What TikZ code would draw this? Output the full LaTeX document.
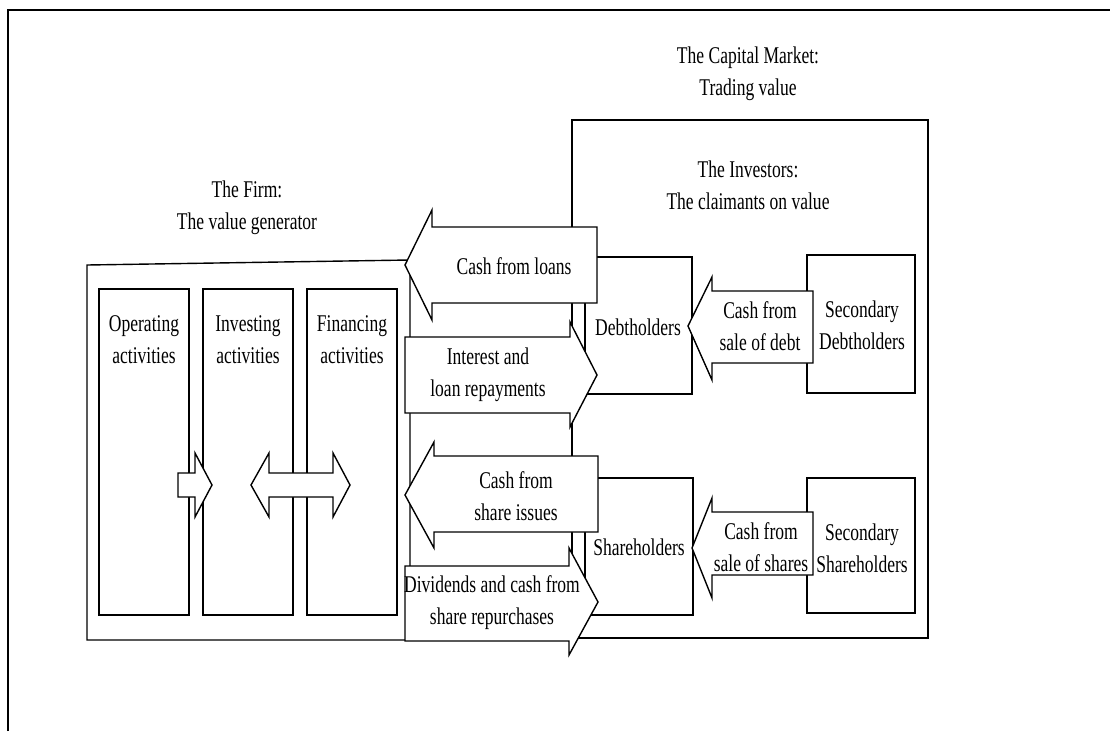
\documentclass[tikz,border=0pt]{standalone}
\usepackage{fontspec}
\setmainfont{Liberation Serif}[FakeStretch=0.73]
\usetikzlibrary{calc}

\newcommand{\lbfont}{\fontsize{24}{32}\selectfont}
\tikzset{
  box/.style={line width=1.4pt},
  blk/.style={line width=1.4pt, fill=white, line join=miter},
  lbl/.style={align=center, inner sep=0pt, font=\lbfont}
}

\begin{document}
\begin{tikzpicture}[x=1pt,y=-1pt]
\useasboundingbox (0,0) rectangle (1110,731);
%page frame
\draw[line width=2pt] (8,731) -- (8,10) -- (1110,10);

%titles
\node[lbl] (market) at (748,74) {The Capital Market:\\Trading value};
\node[lbl] (investors) at (748,185) {The Investors:\\The claimants on value};
\node[lbl] (firm) at (247,208) {The Firm:\\The value generator};

%firm box
\draw[box] (87,265) -- (410,260) -- (410,640) -- (87,640) -- cycle;
\foreach \x/\n/\t in {99/op/Operating, 203/inv/Investing, 307/fin/Financing} {
\draw[box] (\x,289) rectangle ++(90,326);
\node[lbl] (\n) at (\x+45,340) {\t\\activities};
}

%flows inside the firm
\draw[blk] (178,473) -- (195,473) -- (195,453) -- (212,485) -- (195,517) -- (195,497) -- (178,497) -- cycle;
\draw[blk] (251,485) -- (269,453) -- (269,473) -- (333,473) -- (333,453) -- (350,485)
  -- (333,517) -- (333,497) -- (269,497) -- (269,517) -- cycle;

%market box
\draw[box] (572,120) rectangle (928,638);

%investor boxes
\draw[box] (585,257) rectangle (692,394);
\node[lbl] (debt) at (638,327) {Debtholders};
\draw[box] (585,478) rectangle (693,615);
\node[lbl] (share) at (639,547) {Shareholders};
\draw[box] (807,255) rectangle (915,393);
\node[lbl] (secdebt) at (862,325) {Secondary\\Debtholders};
\draw[box] (807,478) rectangle (915,613);
\node[lbl] (secshare) at (862,548) {Secondary\\Shareholders};

%debt flows
\draw[blk] (597,227) -- (432,227) -- (432,210) -- (405,265) -- (432,320) -- (432,303) -- (597,303) -- cycle;
\node[lbl] (loans) at (514,266) {Cash from loans};
\draw[blk] (405,337) -- (570,337) -- (570,322) -- (597,375) -- (570,427) -- (570,413) -- (405,413) -- cycle;
\node[lbl] (interest) at (488,375) {Interest and\\loan repayments};

%equity flows
\draw[blk] (598,456) -- (434,456) -- (434,442) -- (405,495) -- (434,548) -- (434,532) -- (598,532) -- cycle;
\node[lbl] (issues) at (516,496) {Cash from\\share issues};
\draw[blk] (405,566) -- (569,566) -- (569,548) -- (598,602) -- (569,655) -- (569,641) -- (405,641) -- cycle;
\node[lbl] (dividends) at (492,603) {Dividends and cash from\\share repurchases};

%secondary trading
\draw[blk] (813,291) -- (712,291) -- (712,277) -- (688,326) -- (712,380) -- (712,363) -- (813,363) -- cycle;
\node[lbl] (saledebt) at (760,326) {Cash from\\sale of debt};
\draw[blk] (813,512) -- (712,512) -- (712,498) -- (692,548) -- (712,598) -- (712,575) -- (813,575) -- cycle;
\node[lbl] (saleshare) at (761,547) {Cash from\\sale of shares};

\end{tikzpicture}
\end{document}
